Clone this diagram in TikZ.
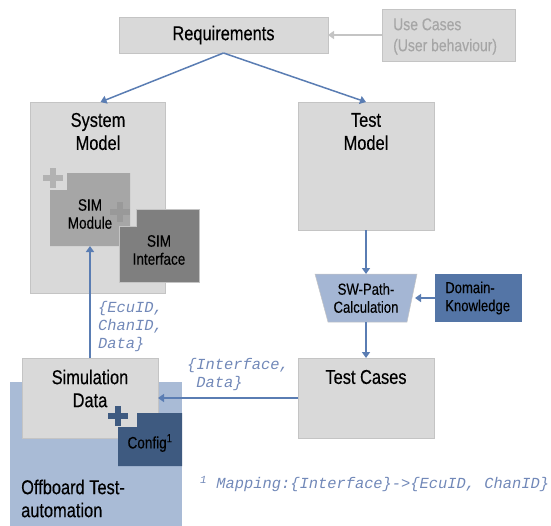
\documentclass[tikz,border=0pt]{standalone}
\usepackage{fontspec}
\setmainfont{Liberation Sans}[FakeStretch=0.82, FakeBold=0.3]
\setmonofont{Liberation Mono}
\usetikzlibrary{arrows.meta}
\definecolor{lgray}{HTML}{D9D9D9}
\definecolor{bordc}{HTML}{C4C4C4}
\definecolor{modgray}{HTML}{A6A6A6}
\definecolor{ifgray}{HTML}{7F7F7F}
\definecolor{plusA}{HTML}{B2B2B2}
\definecolor{plusB}{HTML}{999999}
\definecolor{offblue}{HTML}{A9BBD6}
\definecolor{trapblue}{HTML}{A4B6D4}
\definecolor{domblue}{HTML}{5475A6}
\definecolor{confblue}{HTML}{3E5A80}
\definecolor{arrowc}{HTML}{5A7DB3}
\definecolor{monoc}{HTML}{7188B8}
\definecolor{ucgray}{HTML}{A6A6A6}
\begin{document}
\begin{tikzpicture}[x=1pt,y=-1pt,
  box/.style={draw=bordc, line width=0.8pt, fill=lgray, inner sep=0pt, outer sep=0pt},
  ghost/.style={inner sep=0pt, outer sep=0pt},
  big/.style={inner sep=0pt, align=center, font=\fontsize{20}{23}\selectfont},
  small/.style={inner sep=0pt, align=center, font=\fontsize{16.5}{18}\selectfont},
  mono/.style={inner sep=0pt, align=left, text=monoc, font=\fontsize{15.4}{18}\selectfont\ttfamily\itshape},
  arr/.style={draw=arrowc, line width=1.5pt, -{Triangle[length=6pt,width=8pt]}},
  grayarr/.style={draw=bordc, line width=2pt, -{Triangle[length=6pt,width=8pt]}},
  plussign/.pic={\fill[#1] (-10,-2.7) rectangle (10,2.7); \fill[#1] (-2.7,-10) rectangle (2.7,10);}
]
\useasboundingbox (0,0) rectangle (551,525);

% background offboard area
\node[ghost, fill=offblue, minimum width=172pt, minimum height=145pt] (offb) at (96,454.5) {};

% top
\node[box, minimum width=209pt, minimum height=36pt] (req) at (223.5,35) {};
\node[big] (reqt) at (req) {Requirements};
\node[box, minimum width=133pt, minimum height=52pt] (use) at (448.5,35) {};
\node[inner sep=0pt, align=left, text=ucgray, anchor=west, font=\fontsize{17}{21}\selectfont] (uset) at (393,36.5) {Use Cases\\(User behaviour)};

% system model
\node[box, minimum width=135pt, minimum height=191pt] (sys) at (97.5,197.5) {};
\node[big] (syst) at (98,131.5) {System\\Model};

% SIM module
\fill[modgray] (67,173) -- (130,173) -- (130,246) -- (50,246) -- (50,190) -- (67,190) -- cycle;
\node[ghost, minimum width=80pt, minimum height=73pt] (simmod) at (90,209.5) {};
\node[small] (simmodt) at (90,214) {SIM\\Module};
\pic at (53,178) {plussign=plusA};

% SIM interface
\filldraw[fill=ifgray, draw=bordc, line width=0.6pt] (136,209) -- (199,209) -- (199,282) -- (119,282) -- (119,226) -- (136,226) -- cycle;
\node[ghost, minimum width=80pt, minimum height=73pt] (iface) at (159,245.5) {};
\node[small] (ifacet) at (159,250) {SIM\\Interface};
\pic at (120,212) {plussign=plusB};

% test model
\node[box, minimum width=136pt, minimum height=128pt] (testm) at (366,166) {};
\node[big] (testmt) at (366,131.5) {Test\\Model};

% SW path calculation
\filldraw[fill=trapblue, draw=bordc, line width=0.5pt] (315,274) -- (417,274) -- (407,322) -- (328,322) -- cycle;
\node[ghost, minimum width=98pt, minimum height=48pt] (swp) at (366,298) {};
\node[small, font=\fontsize{16}{18}\selectfont] (swpt) at (366,298) {SW-Path-\\Calculation};

% domain knowledge
\node[ghost, fill=domblue, minimum width=87pt, minimum height=48pt] (dom) at (478.5,298) {};
\node[inner sep=0pt, align=left, anchor=west, font=\fontsize{16}{18}\selectfont] (domt) at (445,298) {Domain-\\Knowledge};

% test cases
\node[box, minimum width=136pt, minimum height=80pt] (testc) at (366,398) {};
\node[big] (testct) at (366,377) {Test Cases};

% simulation data
\node[box, minimum width=136pt, minimum height=80pt] (simd) at (90,398) {};
\node[big] (simdt) at (90,388.5) {Simulation\\Data};

% config
\fill[confblue] (137,413) -- (182,413) -- (182,466) -- (118,466) -- (118,427) -- (137,427) -- cycle;
\node[ghost, minimum width=64pt, minimum height=53pt] (conf) at (150,439.5) {};
\node[small] (conft) at (150,443) {Config\textsuperscript{1}};
\pic at (118,416) {plussign=confblue};

% offboard label
\node[inner sep=0pt, align=left, anchor=west, font=\fontsize{20}{23}\selectfont] (offbt) at (21,498.5) {Offboard Test-\\automation};

% arrows
\draw[grayarr] (use.west) -- (req.east);
\draw[arr] (req.south) -- ([xshift=3pt]sys.north);
\draw[arr] (req.south) -- (testm.north);
\draw[arr] (testm.south) -- (swp.north);
\draw[arr] (dom.west) -- (swp.east);
\draw[arr] (swp.south) -- (testc.north);
\draw[arr] (testc.west) -- (simd.east);
\draw[arr] (simd.north) -- (simmod.south);

% mono labels
\node[mono, anchor=west] (lab1) at (98,327) {\{EcuID,\\ChanID,\\Data\}};
\node[mono, anchor=west] (lab2) at (187,374.5) {\{Interface,\\\hspace*{9.2pt}Data\}};
\node[mono, anchor=west] (foot) at (200,484) {\textsuperscript{1} Mapping:\{Interface\}->\{EcuID, ChanID\}};
\end{tikzpicture}
\end{document}
